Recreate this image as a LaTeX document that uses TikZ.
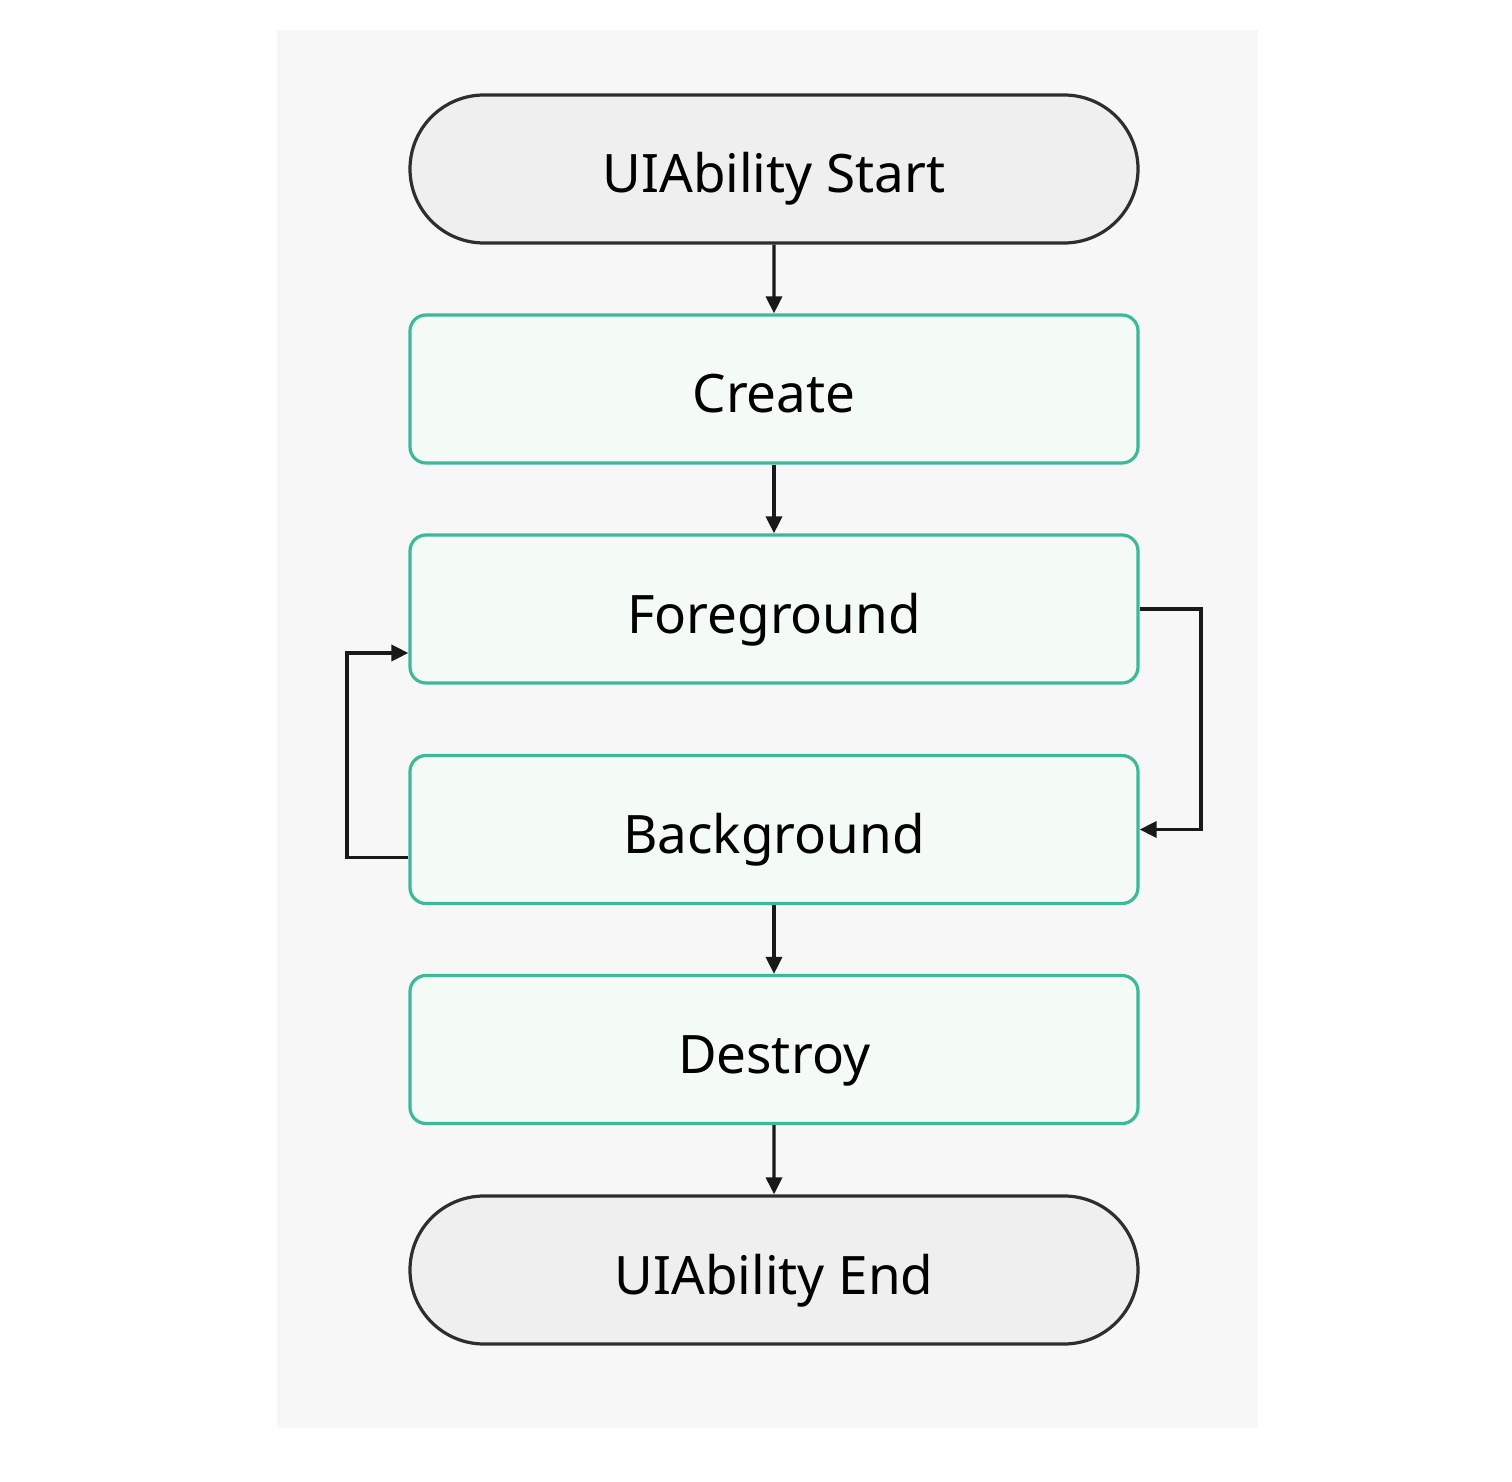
\documentclass[tikz,border=0pt]{standalone}
\usepackage{fontspec}
\setmainfont{Noto Sans}
\usetikzlibrary{arrows.meta,shapes.misc}
\definecolor{panel}{HTML}{F7F7F7}
\definecolor{pillfill}{HTML}{EFEFEF}
\definecolor{pillline}{HTML}{2E2E2E}
\definecolor{teal}{HTML}{3DB99A}
\definecolor{boxfill}{HTML}{F4FAF5}
\tikzset{
  lbl/.style={font=\fontsize{26.5}{30}\selectfont, inner sep=0pt, text height=24pt, text depth=0pt},
  pill/.style={lbl, rounded rectangle, draw=pillline, fill=pillfill, line width=1.6pt,
    minimum width=364pt, minimum height=74pt},
  statebox/.style={lbl, rectangle, rounded corners=8pt, draw=teal, fill=boxfill, line width=1.6pt,
    minimum width=364pt, minimum height=74pt},
  conn/.style={draw=black!90, line width=1.7pt, -{Triangle[length=8.5pt,width=8pt]}}
}
\begin{document}
\begin{tikzpicture}[x=0.5pt,y=-0.5pt]
\useasboundingbox (0,0) rectangle (1512,1482);
\fill[white] (0,0) rectangle (1512,1482);
\fill[panel] (277,30) rectangle (1258,1428);
\node[pill] (start) at (774,169) {UIAbility Start};
\node[statebox] (create) at (774,389) {Create};
\node[statebox] (fg) at (774,609) {Foreground};
\node[statebox] (bg) at (774,829.5) {Background};
\node[statebox] (destroy) at (774,1049.5) {Destroy};
\node[pill] (end) at (774,1270) {UIAbility End};
\draw[conn] (start) -- (create);
\draw[conn] (create) -- (fg);
\draw[conn] (bg) -- (destroy);
\draw[conn] (destroy) -- (end);
\coordinate (rx) at (1201,0);
\coordinate (lx) at (347,0);
\coordinate (bgout) at ([yshift=-14pt]bg.west);
\coordinate (fgin) at ([yshift=-22pt]fg.west);
\draw[conn] (fg.east) -- (rx |- fg.east) -- (rx |- bg.east) -- (bg.east);
\draw[conn] (bgout) -- (lx |- bgout) -- (lx |- fgin) -- (fgin);
\end{tikzpicture}
\end{document}
